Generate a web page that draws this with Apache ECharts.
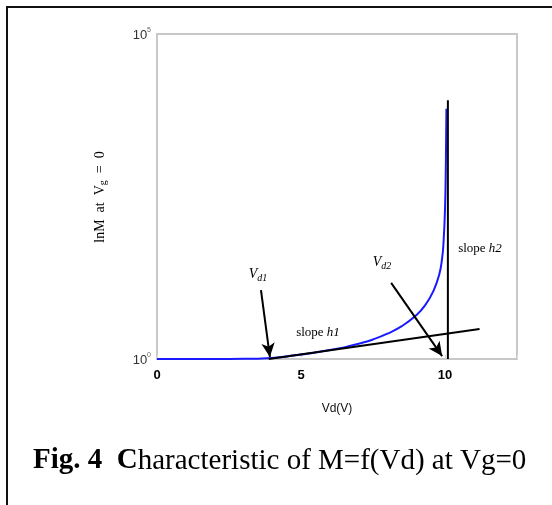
<!DOCTYPE html>
<html><head><meta charset="utf-8">
<script src="https://cdn.jsdelivr.net/npm/echarts@6/dist/echarts.min.js"></script>
<style>html,body{margin:0;padding:0;background:#fff}#c{width:552px;height:505px}</style>
</head><body><div id="c"></div>
<script>
// Data
var vd = [0, 1, 2, 3, 3.5, 4, 4.5, 5, 5.5, 6, 6.5, 7, 7.5, 8, 8.5, 9, 9.3, 9.6, 9.8, 9.9, 9.95, 10.0, 10.03, 10.05];
var mVals = [1, 1, 1, 1.005, 1.012, 1.035, 1.096, 1.175, 1.259, 1.38, 1.51, 1.72, 2.0, 2.45, 3.2, 4.7, 6.61, 11.2, 20, 35.5, 63, 200, 1000, 7080];
var slopeH1 = [[3.88, 1], [11.2, 2.9]];
var slopeH2 = [[10.1, 1], [10.1, 9550]];
var arrowVd1 = [[3.61, 11.5], [3.92, 1.07]];
var arrowVd2 = [[8.13, 14.8], [9.9, 1.11]];
var xTickLabels = ['0', '5', '10'];
var yTickLabels = {1: '0', 100000: '5'};

var chart = echarts.init(document.getElementById('c'));
var curve = vd.map(function (v, i) { return [v, mVals[i]]; });
var gray = '#c8c8c8';
chart.setOption({
  animation: false,
  grid: {left: 157, top: 34, right: 35, bottom: 146, show: true, borderColor: gray, borderWidth: 2},
  xAxis: {
    type: 'value', min: 0, max: 12.5, interval: 5,
    name: 'Vd(V)', nameLocation: 'middle', nameGap: 44,
    nameTextStyle: {fontFamily: 'Liberation Sans', fontSize: 12, color: '#111'},
    axisLine: {show: true, lineStyle: {color: gray, width: 2}},
    axisTick: {show: true, inside: true, length: 4, lineStyle: {color: '#ddd'}},
    splitLine: {show: false},
    axisLabel: {
      fontFamily: 'Liberation Sans', fontWeight: 'bold', fontSize: 13, color: '#000', margin: 10,
      formatter: function (v) { var s = String(v); return xTickLabels.indexOf(s) >= 0 ? s : ''; }
    }
  },
  yAxis: {
    type: 'log', logBase: 10, min: 1, max: 100000,
    axisLine: {show: true, lineStyle: {color: gray, width: 2}},
    axisTick: {show: false},
    splitLine: {show: false},
    axisLabel: {
      margin: 6,
      formatter: function (v) { return yTickLabels[v] !== undefined ? '{b|10}{s|' + yTickLabels[v] + '}' : ''; },
      rich: {
        b: {fontFamily: 'Liberation Sans', fontSize: 13, color: '#333', verticalAlign: 'bottom'},
        s: {fontFamily: 'Liberation Sans', fontSize: 7, color: '#666', verticalAlign: 'top', padding: [0, 0, 8, 0]}
      }
    }
  },
  series: [
    {type: 'line', data: curve, showSymbol: false, smooth: true, lineStyle: {color: '#1a1aff', width: 2}, z: 3},
    {type: 'line', data: slopeH1, showSymbol: false, lineStyle: {color: '#000', width: 2}, z: 4},
    {type: 'line', data: slopeH2, showSymbol: false, lineStyle: {color: '#000', width: 2}, z: 4,
      markLine: {
        silent: true, symbol: ['none', 'arrow'], symbolSize: [10, 14], label: {show: false},
        lineStyle: {color: '#000', width: 2, type: 'solid'},
        data: [
          [{coord: arrowVd1[0]}, {coord: arrowVd1[1]}],
          [{coord: arrowVd2[0], lineStyle: {curveness: -0.12}}, {coord: arrowVd2[1]}]
        ]
      }
    }
  ],
  graphic: [
    {type: 'rect', shape: {x: 7, y: 7, width: 600, height: 600}, style: {fill: 'none', stroke: '#111', lineWidth: 2}, z: 100},
    {type: 'text', x: 100, y: 197, rotation: Math.PI / 2, style: {
      text: '{a|lnM  at  V}{s|g}{a|  =  0}', align: 'center', verticalAlign: 'middle',
      rich: {a: {fontFamily: 'Liberation Serif', fontSize: 14, color: '#555'}, s: {fontFamily: 'Liberation Serif', fontSize: 10, color: '#555', padding: [7, 0, 0, 0]}}
    }},
    {type: 'text', x: 258, y: 274, style: {
      text: '{v|V}{s|d1}', align: 'center', verticalAlign: 'middle',
      rich: {v: {fontFamily: 'Liberation Serif', fontStyle: 'italic', fontSize: 14, color: '#666'}, s: {fontFamily: 'Liberation Serif', fontStyle: 'italic', fontSize: 10, color: '#666', padding: [8, 0, 0, 0]}}
    }},
    {type: 'text', x: 382, y: 262, style: {
      text: '{v|V}{s|d2}', align: 'center', verticalAlign: 'middle',
      rich: {v: {fontFamily: 'Liberation Serif', fontStyle: 'italic', fontSize: 14, color: '#666'}, s: {fontFamily: 'Liberation Serif', fontStyle: 'italic', fontSize: 10, color: '#666', padding: [8, 0, 0, 0]}}
    }},
    {type: 'text', x: 318, y: 333, style: {
      text: '{a|slope }{i|h1}', align: 'center', verticalAlign: 'middle',
      rich: {a: {fontFamily: 'Liberation Serif', fontSize: 13, color: '#666'}, i: {fontFamily: 'Liberation Serif', fontStyle: 'italic', fontSize: 13, color: '#666'}}
    }},
    {type: 'text', x: 480, y: 249, style: {
      text: '{a|slope }{i|h2}', align: 'center', verticalAlign: 'middle',
      rich: {a: {fontFamily: 'Liberation Serif', fontSize: 13, color: '#666'}, i: {fontFamily: 'Liberation Serif', fontStyle: 'italic', fontSize: 13, color: '#666'}}
    }},
    {type: 'text', x: 33, y: 461, style: {
      text: '{b|Fig. 4  C}{n|haracteristic of M=f(Vd) at Vg=0}', align: 'left', verticalAlign: 'middle',
      rich: {b: {fontFamily: 'Liberation Serif', fontWeight: 'bold', fontSize: 29, color: '#000'}, n: {fontFamily: 'Liberation Serif', fontSize: 29, color: '#000'}}
    }}
  ]
});
</script></body></html>
